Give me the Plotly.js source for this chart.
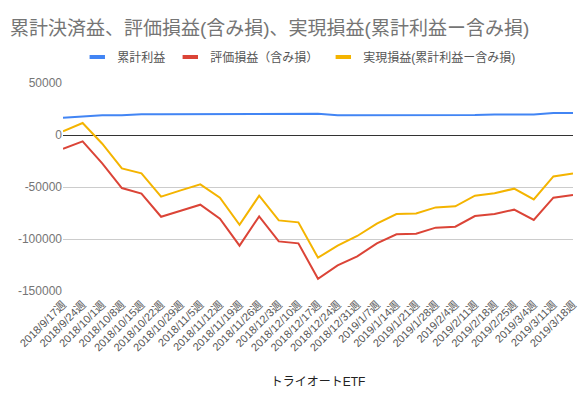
<!DOCTYPE html>
<html><head><meta charset="utf-8">
<script src="https://cdn.plot.ly/plotly-3.0.1.min.js"></script>
<style>body{margin:0;background:#fff}#c{width:583px;height:398px}</style>
</head><body><div id="c"></div>
<script>
const categories = ["2018/9/17週","2018/9/24週","2018/10/1週","2018/10/8週","2018/10/15週","2018/10/22週","2018/10/29週","2018/11/5週","2018/11/12週","2018/11/19週","2018/11/26週","2018/12/3週","2018/12/10週","2018/12/17週","2018/12/24週","2018/12/31週","2019/1/7週","2019/1/14週","2019/1/21週","2019/1/28週","2019/2/4週","2019/2/11週","2019/2/18週","2019/2/25週","2019/3/4週","2019/3/11週","2019/3/18週"];
const cumulative = [16600,17600,18900,18900,19900,19900,19900,19900,19900,19900,19900,19900,20200,20500,18900,18900,19000,19200,19200,19200,19200,19200,19700,19700,19700,21100,21100];
const unrealized = [-13200,-6100,-27300,-51000,-56400,-78600,-72800,-67000,-80500,-106400,-78200,-102300,-104200,-138200,-125400,-116700,-104200,-95500,-94900,-89100,-88200,-77900,-76000,-71800,-81700,-60300,-57700];
const realized = [3500,11500,-8400,-32100,-36900,-59300,-53200,-47500,-60300,-86300,-58400,-82100,-84000,-118000,-106400,-97100,-85300,-76000,-75400,-69600,-68600,-58400,-56100,-51600,-61900,-39800,-36900];
const seriesNames = ["累計利益","評価損益（含み損）","実現損益(累計利益ー含み損)"];
const seriesColors = ["#4285F4","#DB4437","#F4B400"];
const yTicks = [50000,0,-50000,-100000,-150000];

const FONT = "Liberation Sans, Arial, Noto Sans CJK JP, sans-serif";
const data = [cumulative, unrealized, realized];
const traces = [];
data.forEach((d,i)=>{
  traces.push({x:categories,y:d,name:seriesNames[i],type:"scatter",mode:"lines",showlegend:false,line:{color:seriesColors[i],width:2}});
});
data.forEach((d,i)=>{
  traces.push({x:[null],y:[null],name:seriesNames[i],type:"scatter",mode:"markers",showlegend:true,hoverinfo:"skip",
    marker:{symbol:"line-ew",size:11,color:seriesColors[i],line:{width:4,color:seriesColors[i]}}});
});
const layout = {
 width:583,height:398,
 margin:{l:63,r:10,t:83,b:107},
 paper_bgcolor:"#fff",plot_bgcolor:"#fff",
 font:{family:FONT,color:"#757575",size:12},
 title:{text:"累計決済益、評価損益(含み損)、実現損益(累計利益ー含み損)",x:0.017,xanchor:"left",y:0.93,yanchor:"middle",font:{size:19,color:"#757575",family:FONT}},
 showlegend:true,
 legend:{orientation:"h",x:0.028,xanchor:"left",y:1.125,yanchor:"middle",font:{size:12,color:"#555"},itemwidth:30,tracegroupgap:0},
 xaxis:{type:"category",tickangle:-45,tickfont:{size:11,color:"#555"},showgrid:false,zeroline:false,showline:false,ticks:"",ticklabelstandoff:4,
   title:{text:"トライオートETF",font:{size:12,color:"#222"},standoff:25}},
 yaxis:{range:[-150000,50000],tickvals:yTicks,ticktext:yTicks.map(String),gridcolor:"#ccc",zeroline:true,zerolinecolor:"#333",zerolinewidth:1,tickfont:{size:12,color:"#757575"},ticks:"",showline:false}
};
Plotly.newPlot("c",traces,layout,{displayModeBar:false,staticPlot:true});
</script></body></html>
